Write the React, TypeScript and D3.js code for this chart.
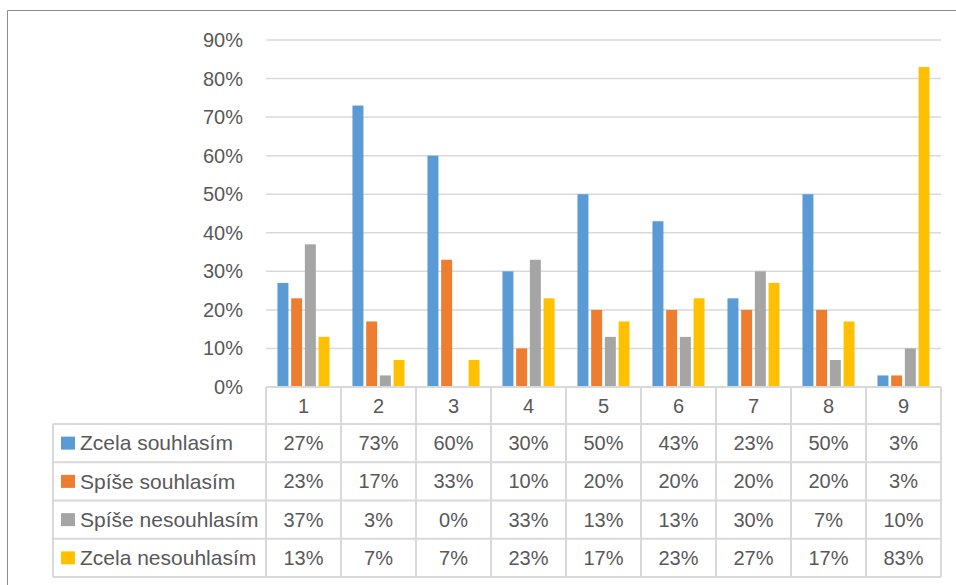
import React from "react";
import * as d3 from "d3";

const categories = ["1", "2", "3", "4", "5", "6", "7", "8", "9"];
const seriesNames = ["Zcela souhlasím", "Spíše souhlasím", "Spíše nesouhlasím", "Zcela nesouhlasím"];
const zcelaSouhlasim = [27, 73, 60, 30, 50, 43, 23, 50, 3];
const spiseSouhlasim = [23, 17, 33, 10, 20, 20, 20, 20, 3];
const spiseNesouhlasim = [37, 3, 0, 33, 13, 13, 30, 7, 10];
const zcelaNesouhlasim = [13, 7, 7, 23, 17, 23, 27, 17, 83];
const seriesValues = [zcelaSouhlasim, spiseSouhlasim, spiseNesouhlasim, zcelaNesouhlasim];
const seriesColors = ["#5B9BD5", "#ED7D31", "#A5A5A5", "#FFC000"];
const yTicks = [0, 10, 20, 30, 40, 50, 60, 70, 80, 90];

const W = 956;
const H = 585;
const plotLeft = 266;
const plotRight = 941;
const yZero = 387;
const yTop = 40;
const headerBottom = 424;
const rowH = 38.25;
const tableLeft = 53;
const FONT = "'Liberation Sans', Arial, sans-serif";
const TEXT = "#595959";
const GRID = "#d9d9d9";

export default function App() {
  const x = d3.scaleBand<string>().domain(categories).range([plotLeft, plotRight]);
  const xi = d3
    .scaleBand<string>()
    .domain(seriesNames)
    .range([0, x.bandwidth()])
    .paddingInner(0.2)
    .paddingOuter(0.837);
  const y = d3.scaleLinear().domain([0, 90]).range([yZero, yTop]);
  const tableBottom = headerBottom + rowH * seriesNames.length;

  return (
    <svg
      width={W}
      height={H}
      style={{ position: "absolute", left: 0, top: 0, background: "#fff" }}
      fontFamily={FONT}
    >
      <rect x={0} y={0} width={W} height={H} fill="#fff" />
      {/* outer border */}
      <path d={`M7.5,${H} V10.5 H${W}`} fill="none" stroke="#8c8c8c" strokeWidth={1} />

      {/* gridlines */}
      {yTicks.filter((t) => t > 0).map((t) => (
        <line key={t} x1={plotLeft} x2={plotRight} y1={y(t)} y2={y(t)} stroke={GRID} strokeWidth={1.5} />
      ))}
      {/* tick labels */}
      {yTicks.map((t) => (
        <text
          key={t}
          x={243}
          y={y(t)}
          dy="0.35em"
          textAnchor="end"
          fontSize={20}
          fill={TEXT}
        >
          {t}%
        </text>
      ))}

      {/* bars */}
      {seriesValues.map((vals, si) =>
        vals.map((v, ci) => (
          <rect
            key={`${si}-${ci}`}
            x={(x(categories[ci]) as number) + (xi(seriesNames[si]) as number)}
            y={y(v)}
            width={xi.bandwidth()}
            height={yZero - y(v)}
            fill={seriesColors[si]}
          />
        ))
      )}

      {/* data table */}
      <g stroke={GRID} strokeWidth={2} fill="none">
        <line x1={plotLeft} x2={plotRight} y1={yZero} y2={yZero} />
        {seriesNames.map((_, i) => (
          <line
            key={i}
            x1={tableLeft}
            x2={plotRight}
            y1={headerBottom + rowH * i}
            y2={headerBottom + rowH * i}
          />
        ))}
        <line x1={tableLeft} x2={plotRight} y1={tableBottom} y2={tableBottom} />
        <line x1={tableLeft} x2={tableLeft} y1={headerBottom} y2={tableBottom} />
        {categories.map((c) => (
          <line key={c} x1={x(c)} x2={x(c)} y1={yZero} y2={tableBottom} />
        ))}
        <line x1={plotRight} x2={plotRight} y1={yZero} y2={tableBottom} />
      </g>

      {/* header */}
      {categories.map((c) => (
        <text
          key={c}
          x={(x(c) as number) + x.bandwidth() / 2}
          y={(yZero + headerBottom) / 2}
          dy="0.35em"
          textAnchor="middle"
          fontSize={20}
          fill={TEXT}
        >
          {c}
        </text>
      ))}

      {/* rows */}
      {seriesNames.map((name, si) => {
        const cy = headerBottom + rowH * si + rowH / 2;
        return (
          <g key={name}>
            <rect x={61} y={cy - 6.5} width={14} height={13} fill={seriesColors[si]} />
            <text x={80} y={cy} dy="0.35em" fontSize={21} fill={TEXT}>
              {name}
            </text>
            {seriesValues[si].map((v, ci) => (
              <text
                key={ci}
                x={(x(categories[ci]) as number) + x.bandwidth() / 2}
                y={cy}
                dy="0.35em"
                textAnchor="middle"
                fontSize={20}
                fill={TEXT}
              >
                {v}%
              </text>
            ))}
          </g>
        );
      })}
    </svg>
  );
}
